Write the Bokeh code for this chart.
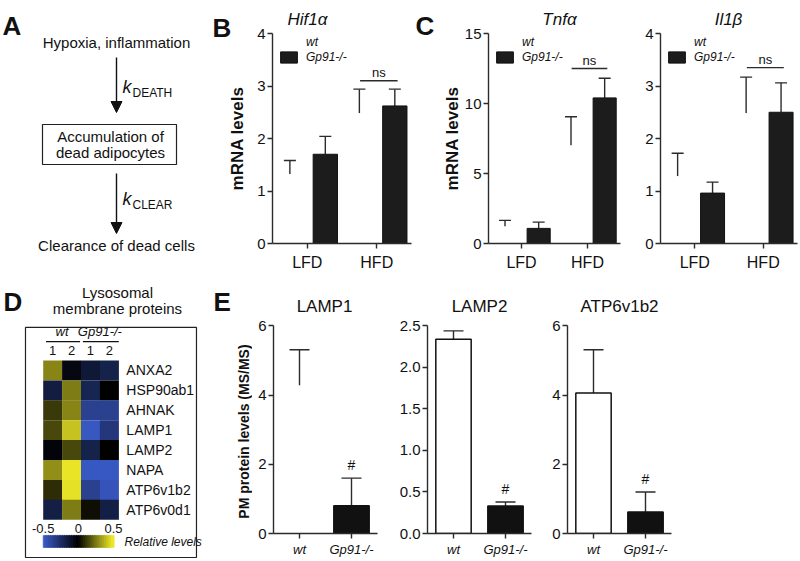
import numpy as np
from bokeh.plotting import figure
from bokeh.models import (ColumnDataSource, Range1d, FixedTicker, Whisker, TeeHead,
                          Legend, LegendItem, Label, LabelSet, Arrow, NormalHead, LinearColorMapper,
                          PrintfTickFormatter)
from bokeh.layouts import row, column
from bokeh.embed import file_html
from bokeh.resources import INLINE
from bokeh.core.properties import value

FONT = "Liberation Sans"
AX = "#2b2b2b"
TXT = "#111111"

# ---------------- data ----------------
diets = ["LFD", "HFD"]
hif_wt = [1.32, 2.48]
hif_wt_err = [0.26, 0.46]
hif_ko = [1.70, 2.62]
hif_ko_err = [0.34, 0.32]

tnf_wt = [1.22, 7.0]
tnf_wt_err = [0.43, 2.05]
tnf_ko = [1.08, 10.4]
tnf_ko_err = [0.45, 1.40]

il1_wt = [1.28, 2.48]
il1_wt_err = [0.44, 0.69]
il1_ko = [0.96, 2.50]
il1_ko_err = [0.21, 0.56]

ns_hif = 3.1
ns_tnf = 12.5
ns_il1 = 3.35

genotypes = ["wt", "Gp91-/-"]
lamp1 = [4.28, 0.80]
lamp1_err = [1.03, 0.80]
lamp2 = [2.34, 0.33]
lamp2_err = [0.10, 0.05]
atp = [4.06, 0.62]
atp_err = [1.25, 0.58]

genes = ["ANXA2", "HSP90ab1", "AHNAK", "LAMP1", "LAMP2", "NAPA", "ATP6v1b2", "ATP6v0d1"]
heat_groups = ["wt", "Gp91-/-"]
heat_reps = ["1", "2", "1", "2"]
heat_values = [
    [0.28, -0.04, -0.13, -0.18],
    [-0.16, 0.26, -0.20, 0.00],
    [0.12, 0.28, -0.35, -0.35],
    [0.15, 0.41, -0.47, -0.30],
    [-0.02, 0.15, -0.18, 0.00],
    [0.30, 0.48, -0.47, -0.47],
    [0.09, 0.47, -0.35, -0.45],
    [-0.17, 0.26, 0.03, -0.17],
]
cbar_ticks = [-0.5, 0.0, 0.5]
cbar_tick_labels = ["-0.5", "0", "0.5"]


def lab(p, text, x, y, size, style="normal", align="center", baseline="middle", angle=0.0):
    p.add_layout(Label(x=x, y=y, x_units="screen", y_units="screen", text=text, angle=angle,
                       text_font=FONT, text_font_size=size, text_font_style=style,
                       text_align=align, text_baseline=baseline, text_color=TXT))


def style_axes(p):
    p.grid.visible = False
    p.outline_line_color = None
    p.axis.axis_line_color = AX
    p.axis.axis_line_width = 1.4
    p.axis.major_tick_line_color = AX
    p.axis.major_tick_line_width = 1.4
    p.axis.major_tick_out = 5
    p.axis.major_tick_in = 0
    p.axis.minor_tick_line_color = None
    p.axis.major_label_text_font = FONT
    p.axis.major_label_text_color = TXT
    p.yaxis.major_label_text_font_size = "15px"
    p.yaxis.major_label_standoff = 2


def mrna_chart(width, bl, br, xmax, wt, wt_err, ko, ko_err, ymax, ticks, ns_y, title, title_x):
    # frame: bottom at 243 px, top tick at 33 px, frame top at 0 px
    ppu = 210.0 / ymax
    p = figure(width=width, height=278, x_range=Range1d(0, xmax),
               y_range=Range1d(0, ymax + 33.0 / ppu), output_backend="svg", toolbar_location=None,
               min_border_left=bl, min_border_right=br, min_border_top=0, min_border_bottom=35,
               frame_align=False)
    style_axes(p)
    n = len(diets)
    centers = [i + 0.5 for i in range(n)]
    p.xaxis.ticker = FixedTicker(ticks=centers)
    p.xaxis.major_label_overrides = {c: d for c, d in zip(centers, diets)}
    p.xaxis.major_label_text_font_size = "16px"
    p.xaxis.major_label_standoff = 5
    p.xaxis.bounds = (0, n)
    p.yaxis.ticker = FixedTicker(ticks=ticks)
    p.yaxis.bounds = (0, ymax)
    src = ColumnDataSource(dict(xw=[c - 0.25 for c in centers], xk=[c + 0.26 for c in centers],
                                wt=wt, ko=ko,
                                wt_hi=[m + e for m, e in zip(wt, wt_err)],
                                ko_hi=[m + e for m, e in zip(ko, ko_err)]))
    r_wt = p.vbar(x="xw", top="wt", width=0.35, source=src, fill_color="white", line_color=None)
    r_ko = p.vbar(x="xk", top="ko", width=0.35, source=src, fill_color="#1c1c1c",
                  line_color="#111", line_width=1)
    for xb, lo, hi in [("xw", "wt", "wt_hi"), ("xk", "ko", "ko_hi")]:
        p.add_layout(Whisker(source=src, base=xb, lower=lo, upper=hi, dimension="height",
                             lower_head=None,
                             upper_head=TeeHead(size=12, line_color=AX, line_width=1.4),
                             line_color=AX, line_width=1.4))
    hfd = centers[diets.index("HFD")]
    ns_src = ColumnDataSource(dict(x0=[hfd - 0.24], x1=[hfd + 0.30], xm=[hfd + 0.03], y=[ns_y],
                                   t=["ns"]))
    p.segment(x0="x0", x1="x1", y0="y", y1="y", source=ns_src, line_color=AX, line_width=1.3)
    p.add_layout(LabelSet(x="xm", y="y", text="t", source=ns_src, y_offset=1,
                          text_align="center", text_baseline="bottom", text_font=value(FONT),
                          text_font_size="13px", text_color=TXT))
    leg = Legend(items=[LegendItem(label="wt", renderers=[r_wt]),
                        LegendItem(label="Gp91-/-", renderers=[r_ko])],
                 location=(6, 179), margin=0, padding=0, spacing=1,
                 glyph_width=21, glyph_height=14, label_height=14, label_standoff=7,
                 label_text_font=FONT, label_text_font_size="12px", label_text_font_style="italic",
                 label_text_color=TXT, border_line_color=None, background_fill_alpha=0)
    p.add_layout(leg)
    lab(p, title, title_x, 224, "17px", style="italic")
    return p


def pm_chart(width, bl, br, vals, errs, ymax, ticks, fmt, title, title_x, wt_outline):
    # frame: bottom at 258 px (row-local), top tick at 48 px, frame top at 0 px
    ppu = 210.0 / ymax
    p = figure(width=width, height=281, x_range=Range1d(0, len(genotypes)),
               y_range=Range1d(0, ymax + 48.0 / ppu), output_backend="svg", toolbar_location=None,
               min_border_left=bl, min_border_right=br, min_border_top=0, min_border_bottom=23,
               frame_align=False)
    style_axes(p)
    centers = [i + 0.5 for i in range(len(genotypes))]
    p.xaxis.ticker = FixedTicker(ticks=centers)
    p.xaxis.major_label_overrides = {c: g for c, g in zip(centers, genotypes)}
    p.xaxis.major_label_text_font_size = "13px"
    p.xaxis.major_label_text_font_style = "italic"
    p.xaxis.major_label_standoff = 3
    p.yaxis.ticker = FixedTicker(ticks=ticks)
    p.yaxis.formatter = PrintfTickFormatter(format=fmt)
    p.yaxis.bounds = (0, ymax)
    src = ColumnDataSource(dict(x=centers, v=vals, hi=[m + e for m, e in zip(vals, errs)],
                                fill=["white", "#111111"],
                                la=[1.0 if wt_outline else 0.0, 1.0]))
    p.vbar(x="x", top="v", width=0.68, source=src, fill_color="fill", line_color="#111",
           line_alpha="la", line_width=1.5)
    p.add_layout(Whisker(source=src, base="x", lower="v", upper="hi", dimension="height",
                         lower_head=None, upper_head=TeeHead(size=20, line_color=AX, line_width=1.4),
                         line_color=AX, line_width=1.4))
    hs = ColumnDataSource(dict(x=[centers[1]], y=[vals[1] + errs[1]], t=["#"]))
    p.add_layout(LabelSet(x="x", y="y", text="t", source=hs, y_offset=5, text_align="center",
                          text_baseline="bottom", text_font=value(FONT), text_font_size="14px",
                          text_color=TXT))
    lab(p, title, title_x, 227, "17px")
    return p


# ---------------- panel A (diagram) + letter B + B's y label ----------------
pA = figure(width=248, height=278, x_range=Range1d(0, 248), y_range=Range1d(278, 0),
            x_axis_type=None, y_axis_type=None, output_backend="svg", toolbar_location=None,
            min_border=0, frame_align=False)
pA.grid.visible = False
pA.outline_line_color = None


def atext(x, y, t, size="15px", style="normal", align="center", baseline="middle", angle=0.0):
    pA.text(x=[x], y=[y], text=[t], angle=angle, text_font=value(FONT), text_font_size=size,
            text_font_style=style, text_align=align, text_baseline=baseline, text_color=TXT)


atext(2, 25, "A", size="26px", style="bold", align="left", baseline="alphabetic")
atext(116, 42, "Hypoxia, inflammation")
pA.add_layout(Arrow(x_start=116, y_start=57, x_end=116, y_end=112, line_width=1.4, line_color="#111",
                    end=NormalHead(size=11, fill_color="#111", line_color="#111")))
atext(122, 86, "k", size="18px", style="italic", align="left")
atext(132, 92, "DEATH", size="12px", align="left")
pA.quad(left=[42], right=[176], top=[124], bottom=[164], fill_color=None, line_color="#222",
        line_width=1.2)
atext(110, 136, "Accumulation of")
atext(110, 152, "dead adipocytes")
pA.add_layout(Arrow(x_start=116, y_start=173, x_end=116, y_end=233, line_width=1.4, line_color="#111",
                    end=NormalHead(size=11, fill_color="#111", line_color="#111")))
atext(122, 198, "k", size="18px", style="italic", align="left")
atext(132, 204, "CLEAR", size="12px", align="left")
atext(116, 245, "Clearance of dead cells")
atext(212, 27, "B", size="26px", style="bold", align="left", baseline="alphabetic")
atext(237, 138, "mRNA levels", size="17px", style="bold", angle=np.pi / 2)

# ---------------- panels B, C ----------------
pB = mrna_chart(213, 24, 0, 189 / 69.5, hif_wt, hif_wt_err, hif_ko, hif_ko_err, 4, [0, 1, 2, 3, 4],
                ns_hif, "Hif1\u03b1", 35)
lab(pB, "C", 143, 218, "26px", style="bold", align="left", baseline="alphabetic")
lab(pB, "mRNA levels", 180, 105, "17px", style="bold", angle=np.pi / 2)
pC1 = mrna_chart(161, 24, 2, 2, tnf_wt, tnf_wt_err, tnf_ko, tnf_ko_err, 15, [0, 5, 10, 15], ns_tnf,
                 "Tnf\u03b1", 71)
pC2 = mrna_chart(176, 38, 1, 2, il1_wt, il1_wt_err, il1_ko, il1_ko_err, 4, [0, 1, 2, 3, 4], ns_il1,
                 "Il1\u03b2", 68)


# ---------------- panel D (heatmap) + letter E + E's y label ----------------
def build_palette(n=256):
    lo = np.array([58, 92, 204])
    hi = np.array([242, 238, 40])
    cols = []
    for t in np.linspace(-1, 1, n):
        c = lo * (-t) if t < 0 else hi * t
        cols.append("#%02x%02x%02x" % tuple(int(round(v)) for v in c))
    return cols


mapper = LinearColorMapper(palette=build_palette(), low=-0.5, high=0.5)

CW, RH = 18.9, 19.9          # cell width / row height in px
x0d, y0d = -42.7 / CW, -82.0 / RH
pD = figure(width=252, height=281, x_range=Range1d(x0d, x0d + 252 / CW),
            y_range=Range1d(y0d + 281 / RH, y0d),
            x_axis_type=None, y_axis_type=None, output_backend="svg", toolbar_location=None,
            min_border=0, frame_align=False)
pD.grid.visible = False
pD.outline_line_color = None

pD.quad(left=[-0.937], right=[8.11], top=[-1.66], bottom=[9.90], fill_color=None,
        line_color="#222", line_width=1.2)

hx, hy, hv = [], [], []
for i, g in enumerate(genes):
    for j in range(len(heat_reps)):
        hx.append(j + 0.5)
        hy.append(i + 0.5)
        hv.append(heat_values[i][j])
pD.rect(x="x", y="y", width=1, height=1, source=ColumnDataSource(dict(x=hx, y=hy, v=hv)),
        fill_color={"field": "v", "transform": mapper}, line_color=None, dilate=True)


def dtext(x, y, t, size="14px", style="normal", align="center", baseline="middle", angle=0.0):
    pD.text(x=x, y=y, text=t, angle=angle, text_font=value(FONT), text_font_size=size,
            text_font_style=style, text_align=align, text_baseline=baseline, text_color=TXT)


dtext([4.4] * len(genes), [i + 0.5 for i in range(len(genes))], genes, align="left")
dtext([j + 0.5 for j in range(len(heat_reps))], [-0.5] * len(heat_reps), heat_reps, size="13px")
dtext([1.0, 3.0], [-1.46, -1.46], heat_groups, size="13px", style="italic")
pD.segment(x0=[0.15, 2.1], x1=[1.95, 4.0], y0=[-0.95, -0.95], y1=[-0.95, -0.95],
           line_color="#111", line_width=1.2)

cb_len = 3.72
ncb = 30
cb_v = [-0.5 + (k + 0.5) / ncb for k in range(ncb)]
cb_src = ColumnDataSource(dict(x=[(v + 0.5) * cb_len for v in cb_v], y=[9.07] * ncb, v=cb_v))
pD.rect(x="x", y="y", width=cb_len / ncb, height=0.56, source=cb_src, dilate=True,
        fill_color={"field": "v", "transform": mapper},
        line_color={"field": "v", "transform": mapper}, line_width=0.6)
dtext([(t + 0.5) * cb_len for t in cbar_ticks], [8.44] * 3, cbar_tick_labels, size="13px")
dtext([4.3], [9.12], ["Relative levels"], size="12px", style="italic", align="left")
dtext([3.93], [-3.42], ["Lysosomal"], size="15px")
dtext([3.93], [-2.61], ["membrane proteins"], size="15px")
dtext([-2.1], [-2.96], ["D"], size="26px", style="bold", align="left", baseline="alphabetic")
dtext([9.01], [-2.96], ["E"], size="26px", style="bold", align="left", baseline="alphabetic")
dtext([10.6], [3.57], ["PM protein levels (MS/MS)"], size="14px", style="bold", angle=np.pi / 2)

# ---------------- panel E ----------------
pE1 = pm_chart(128, 21, 3, lamp1, lamp1_err, 6, [0, 2, 4, 6], "%d", "LAMP1", 51, False)
pE2 = pm_chart(152, 47, 1, lamp2, lamp2_err, 2.5, [0, 0.5, 1.0, 1.5, 2.0, 2.5], "%.1f", "LAMP2", 52,
               True)
pE3 = pm_chart(266, 35, 127, atp, atp_err, 6, [0, 2, 4, 6], "%d", "ATP6v1b2", 52, True)

layout = column(row(pA, pB, pC1, pC2), row(pD, pE1, pE2, pE3))
open("out.html", "w").write(file_html(layout, INLINE))
